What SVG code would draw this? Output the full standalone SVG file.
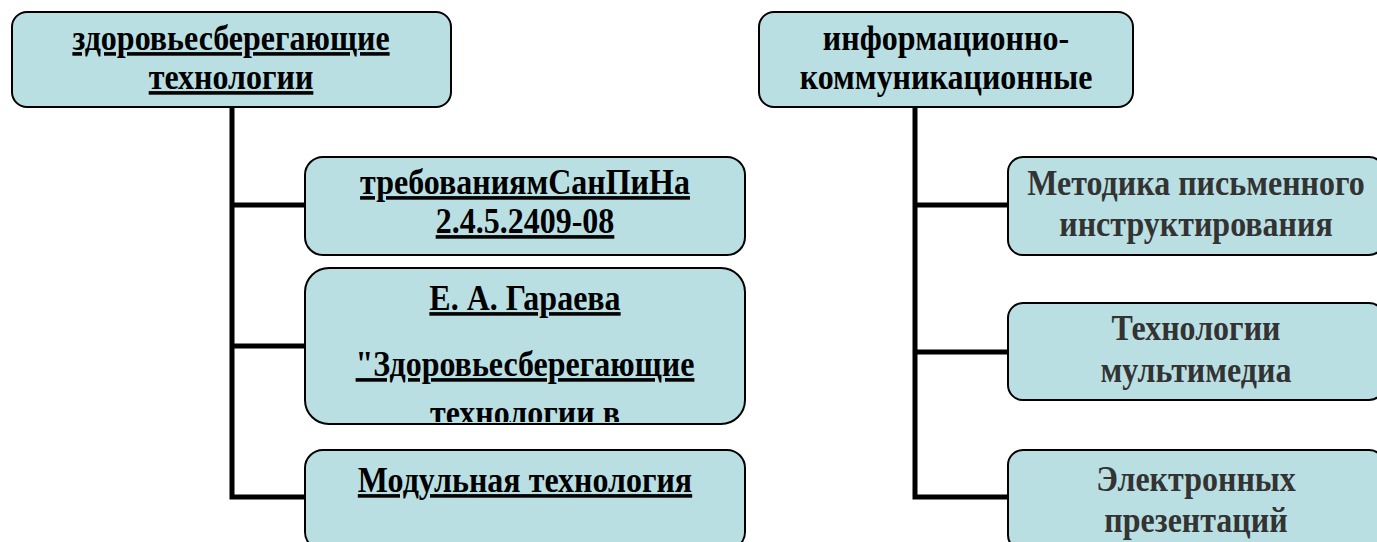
<svg xmlns="http://www.w3.org/2000/svg" width="1377" height="542" viewBox="0 0 1377 542">
<style>
.box{fill:#badfe2;stroke:#000;stroke-width:2}
.t{font-family:"Liberation Serif","Times New Roman",serif;font-weight:bold;font-size:32px;text-anchor:middle}
.u{text-decoration:underline;fill:#000}
.k{fill:#000}
.g{fill:#333}
.c{fill:none;stroke:#000;stroke-width:5}
</style>
<defs>
<clipPath id="clip2"><rect x="306" y="269" width="438" height="153" rx="22"/></clipPath>
</defs>
<rect width="1377" height="542" fill="#fff"/>
<g id="connectors">
<path class="c" d="M232 107V497H305M232 205H305M232 346H305"/>
<path class="c" d="M915 107V497H1008M915 205H1008M915 352H1008"/>
</g>
<g id="root-left">
<rect class="box" x="12" y="12" width="439" height="95" rx="15"/>
<text class="t u" transform="translate(231 50) scale(1 1.12)">здоровьесберегающие</text>
<text class="t u" transform="translate(231 89) scale(1 1.12)">технологии</text>
</g>
<g id="child-sanpin">
<rect class="box" x="305" y="157" width="440" height="98" rx="18"/>
<text class="t u" transform="translate(525 194) scale(1 1.12)">требованиямСанПиНа</text>
<text class="t u" transform="translate(525 233) scale(1 1.12)">2.4.5.2409-08</text>
</g>
<g id="child-garaeva">
<rect class="box" x="305" y="268" width="440" height="156" rx="24"/>
<g clip-path="url(#clip2)">
<text class="t u" transform="translate(525 310) scale(1 1.12)">Е. А. Гараева</text>
<text class="t u" transform="translate(525 376) scale(1 1.12)">"Здоровьесберегающие</text>
<text class="t k" transform="translate(525 425) scale(1 1.12)">технологии в</text>
</g>
</g>
<g id="child-modul">
<rect class="box" x="305" y="450" width="440" height="100" rx="18"/>
<text class="t u" transform="translate(525 492) scale(1 1.12)">Модульная технология</text>
</g>
<g id="root-right">
<rect class="box" x="759" y="12" width="374" height="95" rx="15"/>
<text class="t k" transform="translate(946 50) scale(1 1.12)">информационно-</text>
<text class="t k" transform="translate(946 89) scale(1 1.12)">коммуникационные</text>
</g>
<g id="child-metodika">
<rect class="box" x="1008" y="157" width="376" height="98" rx="15"/>
<text class="t g" transform="translate(1196 195) scale(1 1.12)">Методика письменного</text>
<text class="t g" transform="translate(1196 236) scale(1 1.12)">инструктирования</text>
</g>
<g id="child-multimedia">
<rect class="box" x="1008" y="303" width="376" height="97" rx="15"/>
<text class="t g" transform="translate(1196 340) scale(1 1.12)">Технологии</text>
<text class="t g" transform="translate(1196 382) scale(1 1.12)">мультимедиа</text>
</g>
<g id="child-presentations">
<rect class="box" x="1008" y="450" width="376" height="100" rx="15"/>
<text class="t g" transform="translate(1196 491) scale(1 1.12)">Электронных</text>
<text class="t g" transform="translate(1196 532) scale(1 1.12)">презентаций</text>
</g>
</svg>
